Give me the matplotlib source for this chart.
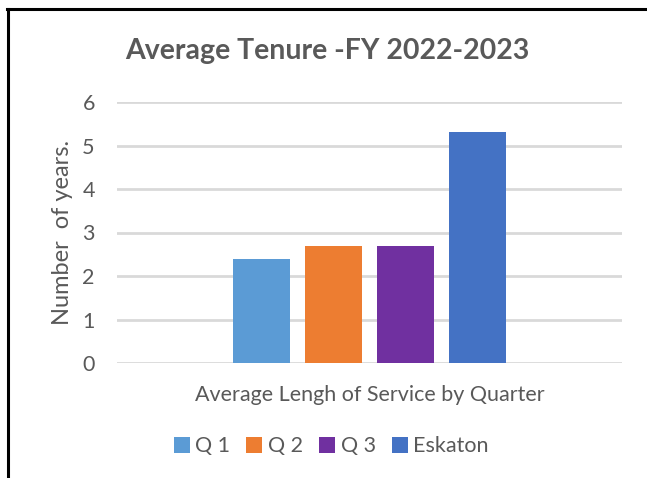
import numpy as np
import matplotlib
matplotlib.use("Agg")
import matplotlib.pyplot as plt
from matplotlib.lines import Line2D

# data
series = ["Q 1", "Q 2", "Q 3", "Eskaton"]
values = [2.4, 2.7, 2.7, 5.3]
colors = ["#5B9BD5", "#ED7D31", "#7030A0", "#4472C4"]
yticks = [0, 1, 2, 3, 4, 5, 6]

text_color = "#595959"
grid_color = "#D9D9D9"

plt.rcParams['font.family'] = ['Lato', 'DejaVu Sans']

fig = plt.figure(figsize=(6.47, 4.78), dpi=100)
ax = fig.add_axes([117 / 647, 1 - 363 / 478, 505 / 647, 261 / 478])

x = np.arange(len(series))
for i, (name, val, col) in enumerate(zip(series, values, colors)):
    ax.bar(x[i], val, width=0.79, color=col, label=name, zorder=3)

ax.set_xlim(-2, 5)
ax.set_ylim(0, 6)
ax.set_yticks(yticks)
ax.set_xticks([])
ax.yaxis.grid(True, color=grid_color, linewidth=2, zorder=0)
for s in ["top", "right", "left", "bottom"]:
    ax.spines[s].set_visible(False)
ax.tick_params(axis="y", length=0, pad=16, labelsize=15.5, labelcolor=text_color)

ax.set_ylabel("Number  of years.", fontsize=17, color=text_color, labelpad=7)
ax.set_xlabel("Average Lengh of Service by Quarter", fontsize=15.5, color=text_color, labelpad=16)

fig.text(0.506, 0.893, "Average Tenure -FY 2022-2023", ha="center", va="center",
         fontsize=20.5, fontweight="bold", color=text_color)

leg = fig.legend(loc="center", bbox_to_anchor=(0.512, 0.066), ncol=4, frameon=False,
                 fontsize=15.5, handlelength=0.75, handleheight=0.75, handletextpad=0.25,
                 columnspacing=0.75, labelcolor=text_color)

# frame lines: top and left only
fig.add_artist(Line2D([7 / 647, 1], [1 - 9 / 478, 1 - 9 / 478], color="black", linewidth=2.2))
fig.add_artist(Line2D([8 / 647, 8 / 647], [0, 1 - 9 / 478], color="black", linewidth=2.2))

fig.savefig("out.png", dpi=100)
